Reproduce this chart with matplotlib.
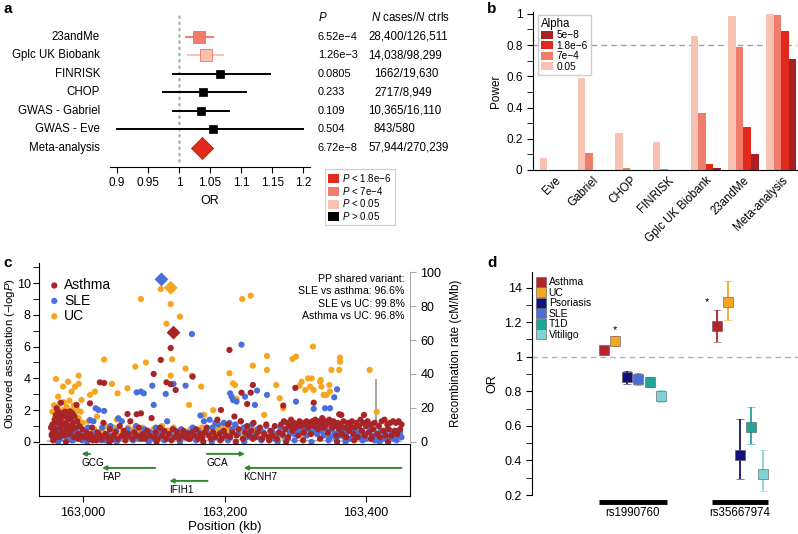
import numpy as np
import matplotlib
matplotlib.use('Agg')
import matplotlib.pyplot as plt
import matplotlib.transforms as mtransforms
from matplotlib.lines import Line2D
from matplotlib.patches import Patch
from matplotlib.ticker import MultipleLocator

plt.rcParams['font.family'] = ['Liberation Sans', 'DejaVu Sans']
plt.rcParams['mathtext.fontset'] = 'custom'
plt.rcParams['mathtext.rm'] = 'Liberation Sans'
plt.rcParams['mathtext.it'] = 'Liberation Sans:italic'

W, H = 798, 534

# ---- panel a: forest plot ----
studies = ['23andMe', 'Gplc UK Biobank', 'FINRISK', 'CHOP', 'GWAS - Gabriel', 'GWAS - Eve', 'Meta-analysis']
or_est = [1.032, 1.044, 1.066, 1.038, 1.035, 1.055, 1.037]
or_lo = [1.011, 1.015, 0.990, 0.974, 0.990, 0.900, np.nan]
or_hi = [1.055, 1.071, 1.147, 1.108, 1.081, 1.200, np.nan]
p_text = ['6.52e\u22124', '1.26e\u22123', '0.0805', '0.233', '0.109', '0.504', '6.72e\u22128']
n_text = ['28,400/126,511', '14,038/98,299', '1662/19,630', '2717/8,949', '10,365/16,110', '843/580', '57,944/270,239']
p_class = [1, 2, 3, 3, 3, 3, 0]
p_labels = ['$P$ < 1.8e\u22126', '$P$ < 7e\u22124', '$P$ < 0.05', '$P$ > 0.05']
p_colors = ['#e12a1b', '#f07c6c', '#f8c2b3', '#000000']

# ---- panel b: power ----
cohorts = ['Eve', 'Gabriel', 'CHOP', 'FINRISK', 'Gplc UK Biobank', '23andMe', 'Meta-analysis']
power_005 = [0.08, 0.59, 0.24, 0.18, 0.86, 0.985, 1.0]
power_7e4 = [0.0, 0.11, 0.015, 0.008, 0.365, 0.785, 0.995]
power_18e6 = [0.0, 0.003, 0.0, 0.0, 0.04, 0.275, 0.89]
power_5e8 = [0.0, 0.0, 0.0, 0.0, 0.01, 0.10, 0.71]
alpha_labels = ['0.05', '7e\u22124', '1.8e\u22126', '5e\u22128']
alpha_colors = ['#f8c2b3', '#f07c6c', '#e12a1b', '#a82022']

# ---- panel c: regional association ----
asthma_pos = [162955, 162956, 162957, 162958, 162959, 162960, 162961, 162962, 162963, 162964, 162965, 162966,
              162967, 162968, 162969, 162970, 162971, 162972, 162973, 162974, 162975, 162976, 162977, 162978,
              162979, 162980, 162981, 162982, 162983, 162984, 162985, 162986, 162987, 162988, 162990, 162992,
              162993, 162995, 162997, 162999,
              163002, 163005, 163008, 163011, 163013, 163016, 163019, 163021, 163024, 163027, 163029, 163032,
              163035, 163038, 163040, 163043, 163046, 163049, 163052, 163055, 163058, 163061, 163064, 163067,
              163070, 163073, 163076, 163079, 163082, 163085, 163088, 163091, 163094, 163097, 163100, 163103,
              163106, 163109, 163112, 163115, 163118, 163121, 163127, 163130, 163133, 163136, 163139, 163142,
              163145, 163148, 163151, 163154, 163157, 163160, 163163, 163166, 163169, 163172, 163175, 163178,
              163181, 163184, 163187, 163190, 163193, 163196, 163199, 163202, 163205, 163208, 163211, 163214,
              163217, 163220, 163223, 163226, 163229, 163232, 163235, 163238, 163241, 163244, 163247, 163250,
              163253, 163256, 163259, 163262, 163265, 163268, 163271, 163274, 163277,
              163280, 163282, 163284, 163286, 163288, 163290, 163292, 163294, 163296, 163298, 163300, 163302,
              163304, 163306, 163308, 163310, 163312, 163314, 163316, 163318, 163320, 163322, 163324, 163326,
              163328, 163330, 163332, 163334, 163336, 163338, 163340, 163342, 163344, 163346, 163348, 163350,
              163352, 163354, 163356, 163358, 163360, 163362, 163364, 163366, 163368, 163370, 163372, 163374,
              163376, 163378, 163380, 163382, 163384, 163386, 163388, 163390, 163392, 163394, 163396, 163398,
              163400, 163402, 163404, 163406, 163408, 163410, 163412, 163416, 163418, 163420, 163422, 163424,
              163426, 163428, 163430, 163432, 163434, 163436, 163438, 163440, 163442, 163444, 163446, 163448,
              163450,
              162958, 162976, 162994, 163014, 163037, 163060, 163083, 163104, 163125, 163149, 163170, 163194,
              163216, 163240, 163263, 163287, 163311, 163335, 163359, 163383, 163407, 163431,
              162963, 162969, 162991, 162982, 163010, 163024, 163030, 163063, 163076, 163082, 163100, 163110,
              163118, 163124, 163124, 163131, 163155, 163195, 163207, 163224, 163232, 163237, 163240, 163283,
              163300, 163326, 163362, 163365, 163397]
asthma_logp = [0.9, 0.4, 1.1, 0.6, 0.2, 1.4, 0.8, 1.7, 0.5, 1.2, 1.9, 0.3,
               1.5, 0.9, 1.3, 1.8, 0.6, 1.1, 1.6, 0.4, 1.9, 1.2, 0.8, 1.7,
               1.4, 0.5, 1.9, 1.0, 1.5, 0.7, 1.8, 1.2, 0.3, 1.6, 0.9, 1.3,
               0.5, 1.0, 0.4, 0.8,
               0.3, 0.6, 0.2, 0.5, 0.9, 0.3, 0.1, 0.6, 0.4, 0.2, 1.2, 0.5,
               0.3, 0.8, 0.1, 0.4, 0.6, 0.2, 1.0, 0.4, 0.7, 0.3, 0.5, 1.3,
               0.2, 0.6, 0.4, 0.9, 0.3, 0.5, 0.2, 0.7, 0.4, 1.5, 0.3, 0.6,
               0.2, 0.9, 0.4, 0.7, 0.2, 0.5, 0.8, 0.3, 0.6, 0.2, 0.4, 0.7,
               0.3, 0.5, 0.2, 0.6, 0.4, 0.8, 0.2, 0.5, 0.3, 0.6, 0.9, 0.4,
               0.2, 0.6, 0.3, 1.4, 0.5, 0.2, 0.7, 0.4, 1.1, 0.3, 0.6, 1.6,
               0.4, 0.8, 1.3, 0.2, 0.6, 1.0, 0.4, 0.7, 1.2, 0.3, 0.6, 0.9,
               0.2, 0.5, 1.1, 0.3, 0.7, 0.4, 1.0, 0.2, 0.6,
               1.1, 0.5, 1.3, 0.8, 1.2, 0.3, 1.0, 1.4, 0.7, 1.2, 0.9, 1.1,
               0.4, 1.3, 1.0, 1.2, 0.6, 1.1, 1.3, 0.9, 1.2, 0.5, 1.3, 1.0,
               1.4, 1.2, 0.8, 1.3, 1.1, 1.5, 0.9, 1.3, 1.1, 0.6, 1.4, 1.2,
               0.9, 1.3, 1.0, 0.4, 1.2, 0.8, 1.1, 0.5, 1.3, 0.9, 0.3, 1.2,
               0.7, 1.0, 1.3, 0.5, 0.9, 1.2, 0.3, 1.0, 1.4, 0.7, 1.2, 0.4,
               1.0, 1.3, 0.6, 1.1, 0.3, 0.8, 1.2, 0.5, 1.0, 0.3, 1.3, 0.7,
               1.4, 0.4, 1.1, 0.8, 1.2, 0.4, 1.3, 0.7, 1.2, 0.5, 1.3, 0.8,
               1.1,
               0.1, 0.0, 0.2, 0.1, 0.0, 0.1, 0.2, 0.0, 0.1, 0.2, 0.0, 0.1,
               0.0, 0.2, 0.1, 0.0, 0.1, 0.2, 0.0, 0.1, 0.2, 0.0,
               2.12, 2.47, 2.33, 1.91, 2.43, 3.75, 3.71, 1.76, 1.74, 1.80, 4.28, 5.16,
               3.75, 5.91, 3.63, 3.27, 4.11, 2.01, 5.79, 3.10, 2.39, 3.10, 3.58, 2.29,
               3.40, 2.47, 1.74, 1.70, 1.70]

sle_pos = [162956, 162958, 162960, 162962, 162964, 162966, 162968, 162970, 162972, 162974, 162976, 162978,
           162980, 162982, 162984, 162986, 162988, 162990, 162993, 162996, 162999,
           163003, 163007, 163011, 163015, 163019, 163023, 163027, 163031, 163035, 163039, 163043, 163047,
           163051, 163055, 163059, 163063, 163067, 163071, 163075, 163079, 163083, 163087, 163091, 163095,
           163099, 163103, 163107, 163111, 163115, 163119, 163123, 163127, 163131, 163135, 163139, 163143,
           163147, 163151, 163155, 163159, 163163, 163167, 163171, 163175, 163179, 163183, 163187, 163191,
           163195, 163199, 163203, 163207, 163211, 163215, 163219, 163223, 163227, 163231, 163235, 163239,
           163243, 163247, 163251, 163255, 163259, 163263, 163267, 163271, 163275, 163279,
           163283, 163286, 163289, 163292, 163295, 163298, 163301, 163304, 163307, 163310, 163313, 163316,
           163319, 163322, 163325, 163328, 163331, 163334, 163337, 163340, 163343, 163346, 163349, 163352,
           163355, 163358, 163361, 163364, 163367, 163370, 163373, 163376, 163379, 163382, 163385, 163388,
           163391, 163394, 163397, 163400, 163403, 163406, 163409, 163412, 163415, 163418, 163421, 163424,
           163427, 163430, 163433, 163436, 163439, 163442, 163445, 163448, 163450,
           162965, 162986, 163006, 163026, 163048, 163071, 163093, 163115, 163137, 163160, 163182, 163205,
           163228, 163252, 163275, 163299, 163323, 163347, 163371, 163395, 163419, 163443,
           163124, 163154, 163224, 163098, 163100, 163076, 163082, 163086, 163117, 163128, 163145, 163166,
           163208, 163210, 163212, 163217, 163229, 163243, 163246, 163260, 163301, 163326, 163342, 163349,
           163355, 163359, 163018, 163022, 163030, 163010, 163050]
sle_logp = [0.5, 1.0, 0.3, 0.8, 1.2, 0.6, 0.2, 0.9, 1.1, 0.4, 0.7, 1.0,
            0.3, 0.6, 0.1, 0.9, 0.4, 0.7, 0.2, 0.5, 0.1,
            0.4, 0.9, 0.2, 1.3, 0.6, 0.3, 0.9, 0.1, 0.5, 1.0, 0.3, 0.7,
            0.2, 1.3, 0.5, 0.8, 0.3, 0.6, 1.0, 0.2, 0.5, 0.8, 0.3, 0.6,
            0.2, 0.9, 0.4, 0.7, 0.2, 1.3, 0.5, 0.3, 0.7, 0.4, 0.8, 0.3,
            0.6, 0.2, 0.9, 0.4, 0.7, 0.3, 1.3, 0.6, 1.4, 0.9, 1.2, 1.1,
            0.6, 1.2, 0.4, 1.2, 0.8, 1.1, 0.5, 1.3, 0.9, 0.3, 0.7, 1.1,
            0.4, 0.8, 0.2, 0.6, 1.0, 0.3, 0.7, 0.2, 0.5, 0.9,
            0.4, 0.8, 0.2, 0.6, 1.0, 0.5, 0.9, 0.7, 1.1, 0.6, 0.9, 0.4,
            0.8, 1.0, 0.6, 0.9, 0.5, 1.1, 0.7, 0.4, 0.9, 0.6, 0.3, 0.8,
            0.5, 0.2, 0.7, 0.4, 0.8, 0.3, 0.6, 0.2, 0.7, 0.4, 0.9, 0.6,
            0.3, 0.7, 0.5, 0.2, 0.6, 0.8, 0.4, 0.1, 0.5, 0.3, 0.7, 0.2,
            0.5, 0.8, 0.3, 0.6, 0.2, 0.7, 0.4, 0.6, 0.3,
            0.0, 0.1, 0.0, 0.1, 0.0, 0.1, 0.0, 0.1, 0.0, 0.1, 0.0, 0.1,
            0.0, 0.1, 0.0, 0.1, 0.0, 0.1, 0.0, 0.1, 0.0, 0.1,
            9.77, 6.79, 6.12, 3.54, 2.33, 3.12, 3.17, 3.06, 3.02, 3.65, 3.54, 1.66,
            3.06, 2.85, 2.64, 2.54, 2.85, 2.33, 3.23, 2.96, 2.54, 2.08, 2.12, 2.12,
            2.81, 3.31, 2.12, 2.01, 1.95, 1.38, 1.49]

uc_pos = [162957, 162959, 162961, 162963, 162965, 162967, 162969, 162971, 162973, 162975, 162977, 162979,
          162981, 162983, 162985, 162987, 162989, 162991, 162994, 162997, 163000,
          163004, 163008, 163012, 163016, 163020, 163024, 163028, 163032, 163036, 163040, 163044, 163048,
          163052, 163056, 163060, 163064, 163068, 163072, 163076, 163080, 163084, 163088, 163092, 163096,
          163100, 163104, 163108, 163112, 163116, 163120, 163124, 163128, 163132, 163136, 163140, 163144,
          163148, 163152, 163156, 163160, 163164, 163168, 163172, 163176, 163180, 163184, 163188, 163192,
          163196, 163200, 163204, 163208, 163212, 163216, 163220, 163224, 163228, 163232, 163236, 163240,
          163244, 163248, 163252, 163256, 163260, 163264, 163268, 163272, 163276,
          163285, 163295, 163305, 163312, 163320, 163330, 163338, 163345, 163355, 163370, 163390, 163430,
          162962, 162965, 162972, 162979, 162984, 162989, 162994, 162994, 162998, 163010, 163017, 163030,
          163041, 163049, 163063, 163074, 163082, 163089, 163110, 163118, 163124, 163126, 163124, 163137,
          163145, 163154, 163150, 163167, 163171, 163184, 163207, 163212, 163215, 163217, 163225, 163237,
          163240, 163260, 163260, 163273, 163278, 163283, 163296, 163301, 163306, 163309, 163314, 163318,
          163321, 163323, 163326, 163325, 163335, 163336, 163337, 163340, 163344, 163348, 163349, 163351,
          163363, 163363, 163362, 163405, 163415]
uc_logp = [1.9, 2.3, 1.6, 2.1, 1.5, 2.4, 1.8, 2.0, 2.5, 1.7, 2.2, 1.9,
           2.6, 1.6, 2.0, 2.3, 1.8, 2.1, 1.5, 1.9, 1.2,
           0.5, 1.3, 0.3, 0.8, 1.6, 0.4, 0.7, 1.0, 0.3, 0.6, 0.9, 1.4,
           0.4, 0.7, 0.2, 0.9, 0.5, 0.8, 0.3, 0.6, 0.9, 0.4, 0.7, 0.5,
           0.8, 0.4, 0.6, 1.0, 0.5, 0.7, 0.4, 0.9, 0.5, 0.7, 0.4, 0.6,
           0.3, 0.8, 0.5, 0.7, 0.4, 0.9, 0.6, 0.8, 0.7, 0.9, 0.6, 0.8,
           1.0, 0.7, 0.9, 0.6, 0.8, 1.0, 0.7, 0.5, 0.9, 0.6, 0.4, 0.8,
           0.5, 0.3, 0.7, 1.7, 0.4, 0.6, 0.2, 0.5, 0.3,
           0.3, 0.6, 0.9, 0.4, 0.7, 0.5, 0.8, 0.4, 0.3, 0.2, 0.4, 0.3,
           3.96, 2.85, 3.48, 3.79, 3.17, 3.48, 4.17, 3.65, 2.64, 2.96, 3.17, 5.18,
           3.65, 3.06, 3.38, 4.74, 8.99, 5.00, 9.62, 7.44, 8.68, 5.20, 4.17, 7.88,
           4.61, 4.17, 2.33, 3.48, 1.70, 2.00, 4.32, 3.69, 3.58, 2.70, 8.99, 9.20,
           4.80, 5.41, 4.53, 3.58, 2.75, 2.12, 5.22, 5.37, 3.54, 3.79, 3.27, 4.00,
           3.48, 4.00, 3.27, 6.00, 3.79, 3.90, 3.48, 2.96, 2.96, 3.58, 3.17, 4.53,
           5.05, 5.30, 4.53, 4.53, 1.90]

lead_names = ['UC', 'SLE', 'Asthma']
lead_pos = [163124, 163111, 163128]
lead_logp = [9.70, 10.23, 6.88]

recomb_pos = [162950, 162959, 162960, 162961, 162962, 163100, 163250, 163300, 163413, 163414, 163415, 163416, 163450]
recomb_rate = [0.5, 0.5, 23, 10, 0.6, 0.4, 1.5, 0.8, 0.5, 37, 8, 0.5, 0.4]

genes = ['GCG', 'GCA', 'FAP', 'KCNH7', 'IFIH1']
gene_tail = [163010, 163175, 163102, 163450, 163176]
gene_head = [162998, 163229, 163027, 163227, 163122]
gene_row = [0.81, 0.81, 0.54, 0.54, 0.29]

pp_text = 'PP shared variant:\nSLE vs asthma: 96.6%\nSLE vs UC: 99.8%\nAsthma vs UC: 96.8%'

# ---- panel d: OR by disease ----
diseases = ['Asthma', 'UC', 'Psoriasis', 'SLE', 'T1D', 'Vitiligo']
disease_colors = ['#b5242a', '#f5a623', '#12127a', '#4a6fdc', '#22a499', '#7fd3d6']
snps = ['rs1990760', 'rs35667974']
snp_or = [[1.041, 1.093, 0.880, 0.872, 0.851, 0.774],
          [1.176, 1.319, 0.433, np.nan, 0.592, 0.322]]
snp_lo = [[1.032, 1.062, 0.840, 0.838, 0.822, 0.737],
          [1.085, 1.210, 0.295, np.nan, 0.493, 0.226]]
snp_hi = [[1.050, 1.118, 0.920, 0.905, 0.882, 0.809],
          [1.273, 1.440, 0.640, np.nan, 0.708, 0.463]]
snp_base = [0.0, 9.9]
d_ticklabels = ['0.2', '0.4', '0.6', '0.8', '1', '1.2', '14']


def box(left, top, right, bottom):
    return [left / W, 1 - bottom / H, (right - left) / W, (bottom - top) / H]


fig = plt.figure(figsize=(W / 100, H / 100), dpi=100)

# ================= a =================
ax_a = fig.add_axes(box(110, 10, 310, 167))
rows = -np.arange(len(studies))
ax_a.plot([1, 1], [-6.7, 1.4], ls=(0, (0.5, 2.0)), color='#b0b0b0', lw=1.8, dash_capstyle='round')
for i in range(len(studies)):
    c = p_colors[p_class[i]]
    if i == len(studies) - 1:
        ax_a.plot(or_est[i], rows[i], marker='D', ms=11, color=c, mec='#b01a10', mew=0.6)
    else:
        ax_a.plot([or_lo[i], or_hi[i]], [rows[i], rows[i]], color=c, lw=1.4)
        ax_a.plot(or_est[i], rows[i], marker='s', ms=8 if c != '#000000' else 5.5, color=c,
                  mec=c if c == '#000000' else '#e06050', mew=0.5)
ax_a.set_xlim(0.889, 1.211)
ax_a.set_ylim(-7.03, 1.46)
for s in ['top', 'right', 'left']:
    ax_a.spines[s].set_visible(False)
ax_a.set_yticks([])
ax_a.set_xticks([0.9, 0.95, 1, 1.05, 1.1, 1.15, 1.2])
ax_a.set_xticklabels(['0.9', '0.95', '1', '1.05', '1.1', '1.15', '1.2'])
ax_a.tick_params(axis='x', labelsize=8.5, length=4)
ax_a.set_xlabel('OR', fontsize=9, labelpad=4)
trans_a = mtransforms.blended_transform_factory(fig.transFigure, ax_a.transData)
n_x = [368, 368, 374, 374, 368, 373, 368]
for i in range(len(studies)):
    ax_a.text(100 / W, rows[i], studies[i], transform=trans_a, ha='right', va='center', fontsize=8.3)
    ax_a.text(318 / W, rows[i], p_text[i], transform=trans_a, ha='left', va='center', fontsize=7.9)
    ax_a.text(n_x[i] / W, rows[i], n_text[i], transform=trans_a, ha='left', va='center', fontsize=8.3)
ax_a.text(318 / W, 1.03, r'$P$', transform=trans_a, ha='left', va='center', fontsize=8.3)
ax_a.text(371 / W, 1.03, r'$N$ cases/$N$ ctrls', transform=trans_a, ha='left', va='center', fontsize=8.3)
leg_a = fig.legend(handles=[Patch(facecolor=c, edgecolor='none') for c in p_colors], labels=p_labels,
                   loc='upper left', bbox_to_anchor=(320 / W, 1 - 164 / H), fontsize=7,
                   handlelength=1.2, handleheight=1.05, handletextpad=0.3, labelspacing=0.08,
                   borderpad=0.3, fancybox=False, edgecolor='#cccccc', framealpha=1)
leg_a.get_frame().set_linewidth(0.8)

# ================= b =================
ax_b = fig.add_axes(box(533, 12, 797, 170))
xb = np.arange(len(cohorts))
bw = 0.2
for k, vals in enumerate([power_005, power_7e4, power_18e6, power_5e8]):
    ax_b.bar(xb + (k - 1.5) * bw, vals, width=bw, color=alpha_colors[k], label=alpha_labels[k])
ax_b.axhline(0.8, color='#a0a0a0', ls=(0, (4, 3)), lw=1.0, zorder=0)
ax_b.set_xlim(-0.58, 6.42)
ax_b.set_ylim(0, 1.012)
ax_b.spines['top'].set_visible(False)
ax_b.spines['right'].set_visible(False)
ax_b.set_yticks([0, 0.2, 0.4, 0.6, 0.8, 1.0])
ax_b.set_yticklabels(['0', '0.2', '0.4', '0.6', '0.8', '1'])
ax_b.yaxis.set_minor_locator(MultipleLocator(0.1))
ax_b.tick_params(axis='y', labelsize=8.5, length=4)
ax_b.tick_params(axis='y', which='minor', length=4)
ax_b.set_xticks(xb)
ax_b.set_xticklabels(cohorts, rotation=45, ha='right', va='top', rotation_mode='anchor', fontsize=8.3)
ax_b.tick_params(axis='x', length=0, pad=3)
ax_b.set_ylabel('Power', fontsize=8.5, labelpad=3)
hb, lb = ax_b.get_legend_handles_labels()
leg_b = ax_b.legend(hb[::-1], lb[::-1], title='Alpha', loc='upper left', bbox_to_anchor=(0.0, 1.015),
                    fontsize=7.3, title_fontsize=8.3, alignment='left', handlelength=1.2, handleheight=0.9,
                    handletextpad=0.3, labelspacing=0.05, borderpad=0.3, fancybox=False,
                    edgecolor='#cccccc', framealpha=1)

# ================= c =================
ax_c = fig.add_axes(box(39, 263, 410, 444))
ax_r = ax_c.twinx()
ax_r.plot(recomb_pos, recomb_rate, color='#a8a8a8', lw=1.0, zorder=1)
ax_r.set_ylim(-0.13 * 9.355, 11.26 * 9.355)
ax_c.set_zorder(ax_r.get_zorder() + 1)
ax_c.patch.set_visible(False)
ms = 20
ax_c.scatter(uc_pos, uc_logp, s=ms, color='#f7a51f', edgecolors='none', label='UC', zorder=2)
ax_c.scatter(sle_pos, sle_logp, s=ms, color='#4a6fdc', edgecolors='none', label='SLE', zorder=3)
ax_c.scatter(asthma_pos, asthma_logp, s=ms, color='#a82427', edgecolors='none', label='Asthma', zorder=4)
lead_colors = {'UC': '#f7a51f', 'SLE': '#4a6fdc', 'Asthma': '#a82427'}
for n, x, y in zip(lead_names, lead_pos, lead_logp):
    ax_c.scatter([x], [y], s=50, marker='D', color=lead_colors[n], edgecolors='none', zorder=5)
ax_c.set_xlim(162938, 163462)
ax_c.set_ylim(-0.13, 11.26)
for s in ['top', 'bottom', 'right']:
    ax_c.spines[s].set_visible(False)
for s in ['top', 'bottom', 'left']:
    ax_r.spines[s].set_visible(False)
ax_c.spines['left'].set_bounds(0, 11.26)
ax_r.spines['right'].set_bounds(0, 100)
ax_r.spines['right'].set_color('#a8a8a8')
ax_c.set_xticks([])
ax_c.set_yticks([0, 2, 4, 6, 8, 10])
ax_c.yaxis.set_minor_locator(MultipleLocator(1))
ax_c.tick_params(axis='y', labelsize=9, length=4, pad=2)
ax_c.tick_params(axis='y', which='minor', length=4)
ax_c.set_ylabel('Observed association (\u2212log$P$)', fontsize=8.2)
ax_c.yaxis.set_label_coords(-0.06, 0.5)
ax_r.set_yticks([0, 20, 40, 60, 80, 100])
ax_r.tick_params(axis='y', labelsize=9, length=4, color='#a8a8a8')
ax_r.set_ylabel('Recombination rate (cM/Mb)', fontsize=8.4, labelpad=6)
hc, lc = ax_c.get_legend_handles_labels()
ax_c.legend(hc[::-1], lc[::-1], loc='upper left', bbox_to_anchor=(0.0, 0.97), fontsize=10, frameon=False,
            handlelength=0.8, handletextpad=0.3, labelspacing=0.1, borderpad=0.2, scatterpoints=1,
            markerscale=1.0)
ax_c.text(0.985, 0.94, pp_text, transform=ax_c.transAxes, ha='right', va='top', fontsize=7.6,
          linespacing=1.3, multialignment='right')

ax_g = fig.add_axes(box(39, 444, 410, 496))
for name, t, h, r in zip(genes, gene_tail, gene_head, gene_row):
    ax_g.annotate('', xy=(h, r), xytext=(t, r),
                  arrowprops=dict(arrowstyle='-|>', color='#2e8b2e', lw=1.4, mutation_scale=6,
                                  shrinkA=0, shrinkB=0))
    ax_g.text(min(t, h), r - 0.17, name, ha='left', va='center', fontsize=7.2)
ax_g.set_xlim(162938, 163462)
ax_g.set_ylim(0, 1)
ax_g.set_yticks([])
ax_g.set_xticks([163000, 163200, 163400])
ax_g.set_xticklabels(['163,000', '163,200', '163,400'])
ax_g.tick_params(axis='x', labelsize=9, length=4)
ax_g.set_xlabel('Position (kb)', fontsize=9.5, labelpad=2)

# ================= d =================
ax_d = fig.add_axes(box(532, 272, 798, 495))
ax_d.axhline(1.0, color='#b0b0b0', ls=(0, (4, 3)), lw=1.0, zorder=0)
for g in range(len(snps)):
    k = 0
    for j in range(len(diseases)):
        if np.isnan(snp_or[g][j]):
            continue
        x = snp_base[g] + k
        c = disease_colors[j]
        ax_d.errorbar([x], [snp_or[g][j]],
                      yerr=[[snp_or[g][j] - snp_lo[g][j]], [snp_hi[g][j] - snp_or[g][j]]],
                      fmt='s', color=c, ms=6.5, mec='#555555', mew=0.4, ecolor=c, elinewidth=1.3,
                      capsize=3, capthick=1.3)
        k += 1
    xs = [snp_base[g] - 0.45, snp_base[g] + k - 0.5]
    ax_d.plot(xs, [0.158, 0.158], color='k', lw=3.5, solid_capstyle='butt', clip_on=False)
    ax_d.text(np.mean(xs), 0.098, snps[g], ha='center', va='center', fontsize=8.3)
ax_d.text(1, 1.155, '*', ha='center', va='center', fontsize=8)
ax_d.text(9.0, 1.315, '*', ha='center', va='center', fontsize=8)
ax_d.set_xlim(-6.3, 17)
ax_d.set_ylim(0.2, 1.49)
for s in ['top', 'right', 'bottom']:
    ax_d.spines[s].set_visible(False)
ax_d.spines['left'].set_bounds(0.2, 1.49)
ax_d.set_xticks([])
ax_d.set_yticks([0.2, 0.4, 0.6, 0.8, 1.0, 1.2, 1.4])
ax_d.set_yticklabels(d_ticklabels)
ax_d.yaxis.set_minor_locator(MultipleLocator(0.1))
ax_d.tick_params(axis='y', labelsize=9, length=4)
ax_d.tick_params(axis='y', which='minor', length=4)
ax_d.set_ylabel('OR', fontsize=9, labelpad=4)
hd = [Line2D([], [], marker='s', ls='none', color=c, mec='#555555', mew=0.4, ms=6.5) for c in disease_colors]
ax_d.legend(hd, diseases, loc='upper left', bbox_to_anchor=(0.0, 1.0), fontsize=7.5, frameon=False,
            handlelength=0.8, handletextpad=0.3, labelspacing=0.05, borderpad=0.2, borderaxespad=0.3)

# panel letters
for letter, px, py in [('a', 3, 9), ('b', 487, 9), ('c', 3, 263), ('d', 487, 263)]:
    fig.text(px / W, 1 - py / H, letter, fontsize=11, fontweight='bold', ha='left', va='center')

fig.savefig('out.png', dpi=100)
